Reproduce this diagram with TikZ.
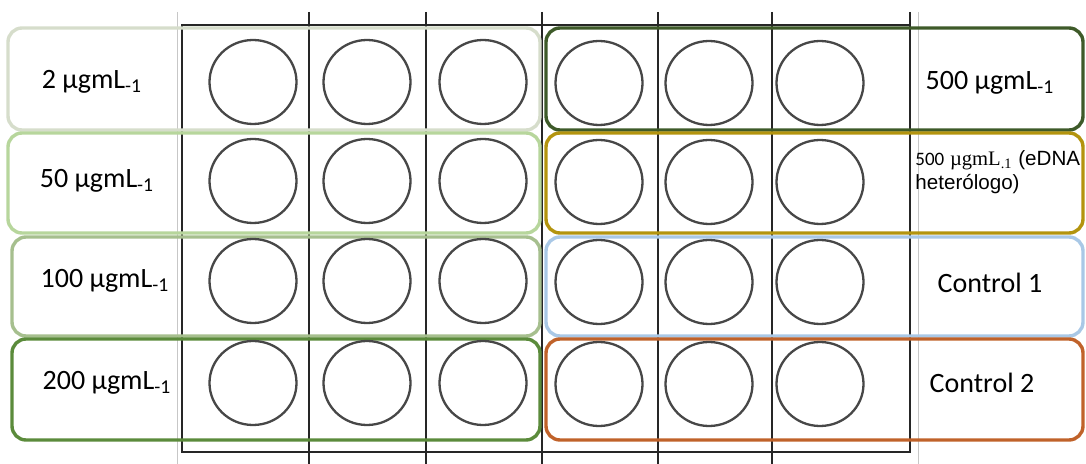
\documentclass[tikz,border=0pt]{standalone}
\usepackage{fontspec}
\setmainfont{Carlito}
\newfontfamily\arialfont{Liberation Sans}
\newfontfamily\timesfont{Liberation Serif}

\definecolor{verdeA}{HTML}{D6DDCB}
\definecolor{verdeB}{HTML}{B7D69C}
\definecolor{verdeC}{HTML}{A6BF8E}
\definecolor{verdeD}{HTML}{5B8B3B}
\definecolor{verdeE}{HTML}{3E5A29}
\definecolor{oro}{HTML}{B3940E}
\definecolor{celeste}{HTML}{A9C8E6}
\definecolor{naranja}{HTML}{C0622A}

\tikzset{pozo/.style={ellipse,draw=black!72,line width=1.15pt,minimum width=43.5pt,minimum height=42pt,inner sep=0pt}}

\usetikzlibrary{shapes.geometric}

\begin{document}
\begin{tikzpicture}[
	x=0.5pt,y=-0.5pt,
	placa/.style={draw=black!85,line width=1.2pt},
	sep/.style={draw=black!22,line width=0.5pt},
	grupo/.style={rounded corners=7pt,line width=1.7pt},
	conc/.style={font=\fontsize{14}{16}\selectfont},
	]
	
	\useasboundingbox (0,0) rectangle (1086,464);
	
	% placa
	\draw[sep] (177,12) -- (177,464);
	\draw[sep] (918,12) -- (918,464);
	\draw[placa] (182,25) rectangle (910,452);
	\draw[placa] (309,12) -- (309,464);
	\draw[placa] (426,12) -- (426,464);
	\draw[placa] (542,12) -- (542,464);
	\draw[placa] (658,12) -- (658,464);
	\draw[placa] (772,12) -- (772,464);
	\draw[placa] (910,12) -- (910,25);
	
	% grupos
	\draw[grupo,draw=verdeA] (8,28) rectangle (540,130);
	\draw[grupo,draw=verdeB] (8,133) rectangle (540,233);
	\draw[grupo,draw=verdeC] (12,237) rectangle (540,336);
	\draw[grupo,draw=verdeD] (12,339) rectangle (540,440);
	\draw[grupo,draw=verdeE] (546,28) rectangle (1083,130);
	\draw[grupo,draw=oro] (546,133) rectangle (1083,233);
	\draw[grupo,draw=celeste] (546,237) rectangle (1083,336);
	\draw[grupo,draw=naranja] (546,339) rectangle (1083,440);
	
	% pozos
	\node[pozo] (p11) at (253,82) {};
	\node[pozo] (p12) at (367,82) {};
	\node[pozo] (p13) at (483,82) {};
	\node[pozo] (p14) at (599,83) {};
	\node[pozo] (p15) at (709,83) {};
	\node[pozo] (p16) at (820,83) {};
	\node[pozo] (p21) at (253,181) {};
	\node[pozo] (p22) at (367,181) {};
	\node[pozo] (p23) at (483,181) {};
	\node[pozo] (p24) at (599,182) {};
	\node[pozo] (p25) at (709,182) {};
	\node[pozo] (p26) at (820,182) {};
	\node[pozo] (p31) at (253,281) {};
	\node[pozo] (p32) at (367,281) {};
	\node[pozo] (p33) at (483,281) {};
	\node[pozo] (p34) at (599,282) {};
	\node[pozo] (p35) at (709,282) {};
	\node[pozo] (p36) at (820,282) {};
	\node[pozo] (p41) at (253,383) {};
	\node[pozo] (p42) at (367,383) {};
	\node[pozo] (p43) at (483,383) {};
	\node[pozo] (p44) at (599,384) {};
	\node[pozo] (p45) at (709,384) {};
	\node[pozo] (p46) at (820,384) {};
	
	% concentraciones
	\node[conc] (c2) at (92,82) {2 µgmL\textsubscript{-1}};
	\node[conc] (c50) at (97,181) {50 µgmL\textsubscript{-1}};
	\node[conc] (c100) at (105,281) {100 µgmL\textsubscript{-1}};
	\node[conc] (c200) at (107,383) {200 µgmL\textsubscript{-1}};
	\node[conc] (c500) at (990,83) {500 µgmL\textsubscript{-1}};
	\node[anchor=north west,align=left,inner sep=0pt,
	font=\arialfont\fontsize{10.3}{12}\selectfont] (het) at (915,150)
	{{\rmfamily\fontsize{9.5}{10}\selectfont 500} {\timesfont µgmL\textsubscript{.1}} (eDNA\\heterólogo)};
	\node[conc] (ctl1) at (990,283) {Control 1};
	\node[conc] (ctl2) at (982,383) {Control 2};

\end{tikzpicture}
\end{document}
